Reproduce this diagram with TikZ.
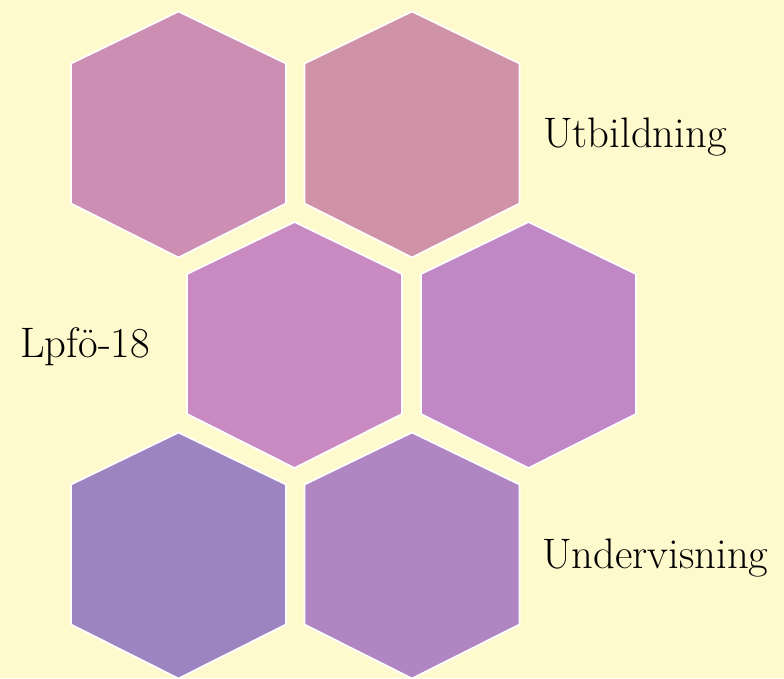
\documentclass[tikz,border=0pt]{standalone}
\usepackage{tikz}
\usepackage{xcolor}
\definecolor{hexfondo}{RGB}{255, 250, 205}
\definecolor{hexrosa}{RGB}{204, 142, 179}
\definecolor{hexsalmon}{RGB}{208, 146, 166}
\definecolor{hexorquidea}{RGB}{200, 138, 192}
\definecolor{hexmalva}{RGB}{192, 136, 196}
\definecolor{hexlavanda}{RGB}{156, 132, 192}
\definecolor{hexlila}{RGB}{176, 134, 194}
\usetikzlibrary{calc}

\begin{document}
\begin{tikzpicture}[x=0.75pt, y=-0.75pt,
    hexa/.style={draw=white, line width=1.3pt, line join=miter},
    etiqueta/.style={anchor=base west, inner sep=0pt,
        font=\fontsize{32}{38}\selectfont, text=black}]

% === Fondo ===
\fill[hexfondo] (0, 0) rectangle (784, 678);
\useasboundingbox (0, 0) rectangle (784, 678);

% === Centros de los hexagonos ===
\coordinate (h1) at (178.5, 134.5);
\coordinate (h2) at (412, 134.5);
\coordinate (h3) at (294.5, 345);
\coordinate (h4) at (528.5, 345);
\coordinate (h5) at (178.5, 555.5);
\coordinate (h6) at (412, 555.5);

% === Fila superior ===
\filldraw[hexa, fill=hexrosa]
    ($(h1) + (0, -123)$) -- ($(h1) + (107.5, -71)$) -- ($(h1) + (107.5, 69)$)
    -- ($(h1) + (0, 123)$) -- ($(h1) + (-107.5, 69)$) -- ($(h1) + (-107.5, -71)$) -- cycle;
\filldraw[hexa, fill=hexsalmon]
    ($(h2) + (0, -123)$) -- ($(h2) + (107.5, -71)$) -- ($(h2) + (107.5, 69)$)
    -- ($(h2) + (0, 123)$) -- ($(h2) + (-107.5, 69)$) -- ($(h2) + (-107.5, -71)$) -- cycle;

% === Fila central ===
\filldraw[hexa, fill=hexorquidea]
    ($(h3) + (0, -123)$) -- ($(h3) + (107.5, -71)$) -- ($(h3) + (107.5, 69)$)
    -- ($(h3) + (0, 123)$) -- ($(h3) + (-107.5, 69)$) -- ($(h3) + (-107.5, -71)$) -- cycle;
\filldraw[hexa, fill=hexmalva]
    ($(h4) + (0, -123)$) -- ($(h4) + (107.5, -71)$) -- ($(h4) + (107.5, 69)$)
    -- ($(h4) + (0, 123)$) -- ($(h4) + (-107.5, 69)$) -- ($(h4) + (-107.5, -71)$) -- cycle;

% === Fila inferior ===
\filldraw[hexa, fill=hexlavanda]
    ($(h5) + (0, -123)$) -- ($(h5) + (107.5, -71)$) -- ($(h5) + (107.5, 69)$)
    -- ($(h5) + (0, 123)$) -- ($(h5) + (-107.5, 69)$) -- ($(h5) + (-107.5, -71)$) -- cycle;
\filldraw[hexa, fill=hexlila]
    ($(h6) + (0, -123)$) -- ($(h6) + (107.5, -71)$) -- ($(h6) + (107.5, 69)$)
    -- ($(h6) + (0, 123)$) -- ($(h6) + (-107.5, 69)$) -- ($(h6) + (-107.5, -71)$) -- cycle;

% === Etiquetas ===
\node[etiqueta] (utbildning) at (543, 147) {Utbildning};
\node[etiqueta] (lpfo) at (20, 357) {Lpfö-18};
\node[etiqueta] (undervisning) at (542, 568) {Undervisning};

\end{tikzpicture}
\end{document}
